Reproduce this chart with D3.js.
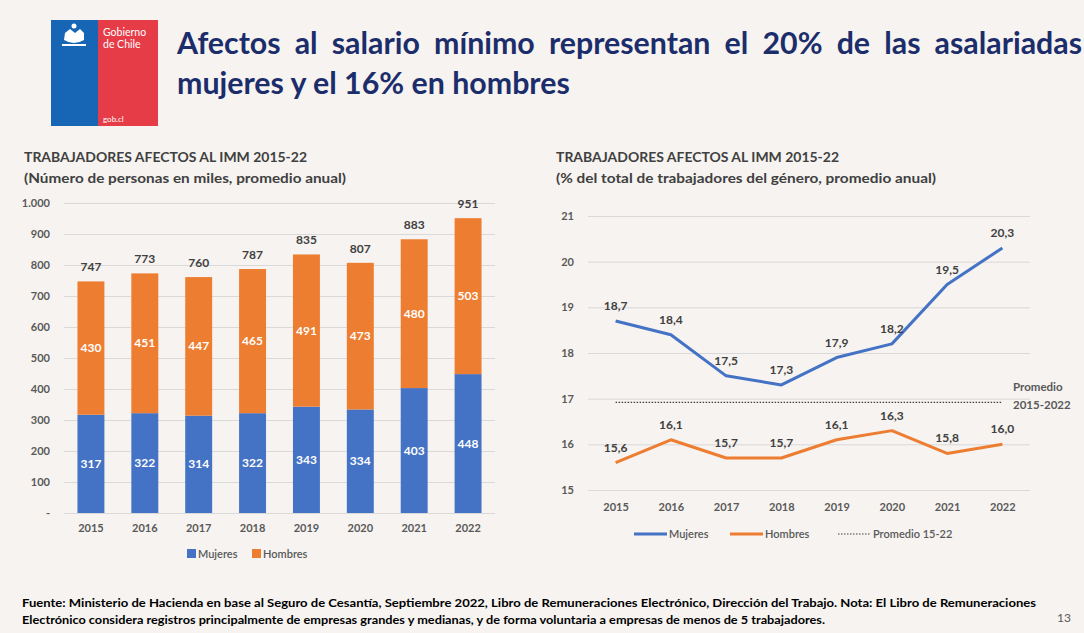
<!DOCTYPE html>
<html>
<head>
<meta charset="utf-8">
<script src="https://cdn.jsdelivr.net/npm/d3@7"></script>
<style>
  body { margin: 0; background: #f6f3f0; }
  svg { display: block; font-family: Lato, "Open Sans", sans-serif; }
</style>
</head>
<body>
<svg width="1084" height="633"></svg>
<script>
// data
var years = ["2015", "2016", "2017", "2018", "2019", "2020", "2021", "2022"];
var mujeresMiles = [317, 322, 314, 322, 343, 334, 403, 448];
var hombresMiles = [430, 451, 447, 465, 491, 473, 480, 503];
var totalMiles = [747, 773, 760, 787, 835, 807, 883, 951];
var mujeresPct = [18.7, 18.4, 17.5, 17.3, 17.9, 18.2, 19.5, 20.3];
var hombresPct = [15.6, 16.1, 15.7, 15.7, 16.1, 16.3, 15.8, 16.0];
var promedioPct = 16.92;
var barTicks = [0, 100, 200, 300, 400, 500, 600, 700, 800, 900, 1000];
var lineTicks = [15, 16, 17, 18, 19, 20, 21];

var blue = "#4472c4", orange = "#ed7d31", txt = "#404040", tick = "#595959";
var navy = "#1c2d6b";
var svg = d3.select("svg");
var loc = d3.formatLocale({decimal: ",", thousands: ".", grouping: [3], currency: ["$", ""]});
var fmtK = loc.format(",");
var fmt1 = loc.format(".1f");

// ---- header / logo
var logo = svg.append("g");
logo.append("rect").attr("x", 51).attr("y", 20).attr("width", 48).attr("height", 106).attr("fill", "#1765b5");
logo.append("rect").attr("x", 98).attr("y", 20).attr("width", 60).attr("height", 106).attr("fill", "#e63c48");
// small emblem
var em = logo.append("g").attr("fill", "#fff");
em.append("path").attr("d", "M65 33 L70 29 L75 33 L80 29 L84 33 L84 40 Q74 46 64 40 Z");
em.append("circle").attr("cx", 74).attr("cy", 26).attr("r", 2.5);
em.append("rect").attr("x", 62).attr("y", 44).attr("width", 24).attr("height", 2);
logo.append("text").attr("x", 103).attr("y", 36).attr("fill", "#fff").attr("font-size", 10.5).text("Gobierno");
logo.append("text").attr("x", 103).attr("y", 48).attr("fill", "#fff").attr("font-size", 10.5).text("de Chile");
logo.append("text").attr("x", 103).attr("y", 122).attr("fill", "#fff").attr("font-size", 8).text("gob.cl");

// title: size fitted to line 2, line 1 justified with word spacing
var t2 = svg.append("text").attr("x", 177).attr("y", 94).attr("fill", navy)
  .attr("font-size", 28).attr("font-weight", "bold")
  .text("mujeres y el 16% en hombres");
var fs = 28 * 393 / t2.node().getComputedTextLength();
t2.attr("font-size", fs);
var t1 = svg.append("text").attr("x", 177).attr("y", 54).attr("fill", navy)
  .attr("font-size", fs).attr("font-weight", "bold")
  .text("Afectos al salario mínimo representan el 20% de las asalariadas");
t1.attr("word-spacing", (905 - t1.node().getComputedTextLength()) / 9);

function chartTitle(x, l1, l2, w1, w2) {
  svg.append("text").attr("x", x).attr("y", 162).attr("fill", txt).attr("font-size", 13)
    .attr("font-weight", "bold").attr("textLength", w1).attr("lengthAdjust", "spacingAndGlyphs").text(l1);
  svg.append("text").attr("x", x).attr("y", 183).attr("fill", txt).attr("font-size", 13)
    .attr("font-weight", "bold").attr("textLength", w2).attr("lengthAdjust", "spacingAndGlyphs").text(l2);
}
chartTitle(24, "TRABAJADORES AFECTOS AL IMM 2015-22", "(Número de personas en miles, promedio anual)", 283, 322);
chartTitle(556, "TRABAJADORES AFECTOS AL IMM 2015-22", "(% del total de trabajadores del género, promedio anual)", 283, 380);

// ---- left: stacked bars
var xL = d3.scaleBand().domain(years).range([64, 495]).paddingInner(0.5).paddingOuter(0.25);
var yL = d3.scaleLinear().domain([0, 1000]).range([513, 203]);

var gyL = svg.append("g").attr("transform", "translate(64,0)")
  .call(d3.axisLeft(yL).tickValues(barTicks).tickSize(-431).tickPadding(14)
    .tickFormat(function(d) { return d === 0 ? "-" : fmtK(d); }));
gyL.select(".domain").remove();
gyL.selectAll("line").attr("stroke", "#d9d9d9");
gyL.selectAll("text").attr("fill", tick).attr("font-size", 11).attr("font-weight", "bold").attr("font-family", "Lato");

var gxL = svg.append("g").attr("transform", "translate(0,513)")
  .call(d3.axisBottom(xL).tickSize(0).tickPadding(11));
gxL.select(".domain").remove();
gxL.selectAll("text").attr("fill", tick).attr("font-size", 11).attr("font-weight", "bold").attr("font-family", "Lato");

var stack = years.map(function(y, i) { return {year: y, m: mujeresMiles[i], h: hombresMiles[i], t: totalMiles[i]}; });

svg.append("g").selectAll("rect").data(stack).enter().append("rect")
  .attr("x", function(d) { return xL(d.year); })
  .attr("width", xL.bandwidth())
  .attr("y", function(d) { return yL(d.m); })
  .attr("height", function(d) { return yL(0) - yL(d.m); })
  .attr("fill", blue);
svg.append("g").selectAll("rect").data(stack).enter().append("rect")
  .attr("x", function(d) { return xL(d.year); })
  .attr("width", xL.bandwidth())
  .attr("y", function(d) { return yL(d.m + d.h); })
  .attr("height", function(d) { return yL(d.m) - yL(d.m + d.h); })
  .attr("fill", orange);

var cx = function(d) { return xL(d.year) + xL.bandwidth() / 2; };
var lbl = svg.append("g").attr("text-anchor", "middle").attr("font-weight", "bold").attr("font-size", 12);
lbl.selectAll(".lm").data(stack).enter().append("text").attr("class", "lm")
  .attr("x", cx).attr("y", function(d) { return yL(d.m / 2) + 4; })
  .attr("fill", "#fff").text(function(d) { return d.m; });
lbl.selectAll(".lh").data(stack).enter().append("text").attr("class", "lh")
  .attr("x", cx).attr("y", function(d) { return yL(d.m + d.h / 2) + 4; })
  .attr("fill", "#fff").text(function(d) { return d.h; });
lbl.selectAll(".lt").data(stack).enter().append("text").attr("class", "lt")
  .attr("x", cx).attr("y", function(d) { return yL(d.t) - 10; })
  .attr("fill", txt).text(function(d) { return d.t; });

// left legend
var legL = svg.append("g").attr("font-size", 11).attr("fill", tick);
[["Mujeres", blue, 187], ["Hombres", orange, 252]].forEach(function(l) {
  legL.append("rect").attr("x", l[2]).attr("y", 549).attr("width", 9).attr("height", 9).attr("fill", l[1]);
  legL.append("text").attr("x", l[2] + 11).attr("y", 558).attr("fill", tick).attr("font-weight", 600).text(l[0]);
});

// ---- right: lines
var xR = d3.scalePoint().domain(years).range([588, 1030]).padding(0.5);
var yR = d3.scaleLinear().domain([15, 21]).range([490, 216]);

var gyR = svg.append("g").attr("transform", "translate(588,0)")
  .call(d3.axisLeft(yR).tickValues(lineTicks).tickSize(-442).tickPadding(14).tickFormat(d3.format("d")));
gyR.select(".domain").remove();
gyR.selectAll("line").attr("stroke", "#d9d9d9");
gyR.selectAll("text").attr("fill", tick).attr("font-size", 11).attr("font-weight", "bold").attr("font-family", "Lato");

var gxR = svg.append("g").attr("transform", "translate(0,490)")
  .call(d3.axisBottom(xR).tickSize(0).tickPadding(13));
gxR.select(".domain").remove();
gxR.selectAll("text").attr("fill", tick).attr("font-size", 11).attr("font-weight", "bold").attr("font-family", "Lato");

var line = d3.line().x(function(d) { return xR(d[0]); }).y(function(d) { return yR(d[1]); });

svg.append("path").datum([[years[0], promedioPct], [years[7], promedioPct]])
  .attr("d", line).attr("fill", "none").attr("stroke", "#404040")
  .attr("stroke-width", 1.2).attr("stroke-dasharray", "1.5,1.5");

[[mujeresPct, blue], [hombresPct, orange]].forEach(function(s) {
  var pts = years.map(function(y, i) { return [y, s[0][i]]; });
  svg.append("path").datum(pts).attr("d", line).attr("fill", "none")
    .attr("stroke", s[1]).attr("stroke-width", 3).attr("stroke-linejoin", "round");
  svg.append("g").attr("text-anchor", "middle").attr("font-size", 12).attr("font-weight", "bold")
    .selectAll("text").data(pts).enter().append("text")
    .attr("x", function(d) { return xR(d[0]); })
    .attr("y", function(d) { return yR(d[1]) - 11; })
    .attr("fill", txt).text(function(d) { return fmt1(d[1]); });
});

svg.append("text").attr("x", 1013).attr("y", 391).attr("fill", tick).attr("font-size", 11.5)
  .attr("font-weight", "bold").text("Promedio");
svg.append("text").attr("x", 1013).attr("y", 409).attr("fill", tick).attr("font-size", 11.5)
  .attr("font-weight", "bold").text("2015-2022");

// right legend
var legR = svg.append("g").attr("font-size", 11).attr("fill", tick);
[["Mujeres", blue, 634, null], ["Hombres", orange, 730, null], ["Promedio 15-22", "#404040", 838, "1.5,1.5"]].forEach(function(l) {
  legR.append("line").attr("x1", l[2]).attr("x2", l[2] + 33).attr("y1", 534).attr("y2", 534)
    .attr("stroke", l[1]).attr("stroke-width", l[3] ? 1.2 : 3).attr("stroke-dasharray", l[3]);
  legR.append("text").attr("x", l[2] + 35).attr("y", 538).attr("fill", tick).attr("font-weight", 600).text(l[0]);
});

// ---- footer
svg.append("text").attr("x", 22).attr("y", 607).attr("fill", "#000").attr("font-size", 10.5)
  .attr("font-weight", "bold").attr("textLength", 1014).attr("lengthAdjust", "spacingAndGlyphs")
  .text("Fuente: Ministerio de Hacienda en base al Seguro de Cesantía, Septiembre 2022, Libro de Remuneraciones Electrónico, Dirección del Trabajo. Nota: El Libro de Remuneraciones");
svg.append("text").attr("x", 22).attr("y", 624).attr("fill", "#000").attr("font-size", 10.5)
  .attr("font-weight", "bold").attr("textLength", 803).attr("lengthAdjust", "spacingAndGlyphs")
  .text("Electrónico considera registros principalmente de empresas grandes y medianas, y  de forma voluntaria a empresas de menos de 5 trabajadores.");
svg.append("text").attr("x", 1057).attr("y", 622).attr("fill", "#595959").attr("font-size", 12).text("13");
</script>
</body>
</html>
